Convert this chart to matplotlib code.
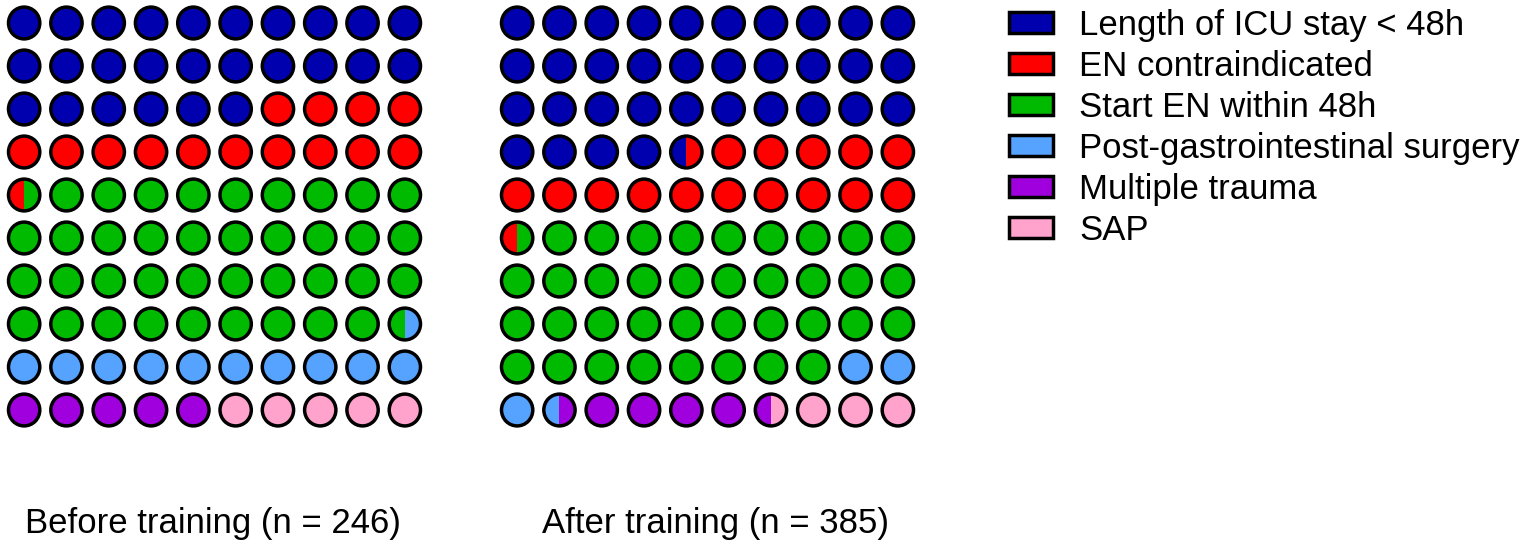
import matplotlib
matplotlib.use("Agg")
import matplotlib.pyplot as plt
from matplotlib.patches import Circle, Rectangle, Patch
import numpy as np

plt.rcParams['font.family'] = ['Liberation Sans', 'DejaVu Sans']

categories = ['Length of ICU stay < 48h', 'EN contraindicated', 'Start EN within 48h',
              'Post-gastrointestinal surgery', 'Multiple trauma', 'SAP']
colors = ['#0000AE', '#FF0000', '#00BA00', '#55A2FF', '#A000DE', '#FFA3CC']

# percent of patients per category (each circle = 1%, half circles for .5)
before_pct = [26.0, 14.5, 39.0, 10.5, 5.0, 5.0]
after_pct = [34.5, 16.0, 37.5, 3.5, 5.0, 3.5]
titles = ['Before training (n = 246)', 'After training (n = 385)']

ncols, nrows = 10, 10
r = 0.37


def draw_waffle(ax, pct):
    ends = np.cumsum(pct)
    starts = ends - np.array(pct)
    for k in range(ncols * nrows):
        row, col = k // ncols, k % ncols
        outline = Circle((col, row), r, facecolor='none', edgecolor='black',
                         lw=2.5, zorder=3)
        ax.add_patch(outline)
        for c, (s, e) in enumerate(zip(starts, ends)):
            lo, hi = max(s, k), min(e, k + 1)
            if hi - lo <= 1e-9:
                continue
            x0 = col - r + 2 * r * (lo - k)
            w = 2 * r * (hi - lo)
            rect = Rectangle((x0, row - r), w, 2 * r, facecolor=colors[c],
                             edgecolor='none', zorder=2)
            ax.add_patch(rect)
            rect.set_clip_path(outline)
    ax.set_xlim(-0.5, ncols - 0.5)
    ax.set_ylim(nrows - 0.5, -0.5)
    ax.axis('off')


W, H = 1535, 552
fig = plt.figure(figsize=(W / 100, H / 100), dpi=100)

ax1 = fig.add_axes([3 / W, (H - 431.5) / H, 423 / W, 430 / H])
ax2 = fig.add_axes([496 / W, (H - 431.5) / H, 423 / W, 430 / H])
draw_waffle(ax1, before_pct)
draw_waffle(ax2, after_pct)

fig.text(213 / W, 1 - 533 / H, titles[0], ha='center', va='baseline', fontsize=25)
fig.text(715 / W, 1 - 533 / H, titles[1], ha='center', va='baseline', fontsize=25)

handles = [Patch(facecolor=col, edgecolor='black', lw=2.5) for col in colors]
fig.legend(handles, categories, loc='upper left', bbox_to_anchor=(985 / W, 1.028),
           frameon=False, fontsize=25, handlelength=1.27, handleheight=0.55,
           handletextpad=0.75, labelspacing=0.23, borderpad=0.2)

fig.savefig('out.png', dpi=100)
